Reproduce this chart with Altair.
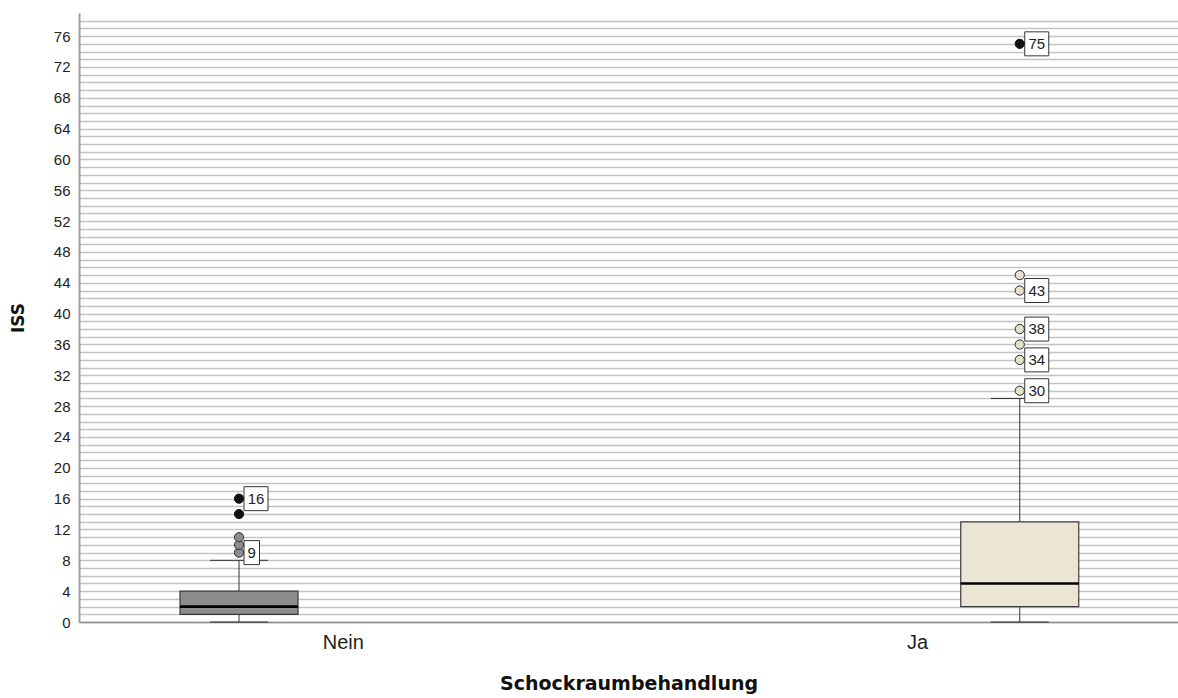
import json
import altair as alt
import pandas as pd

# ---- data: ISS by Schockraumbehandlung ----
groups = ["Nein", "Ja"]
minimum = [0, 0]
q1 = [1, 2]
median = [2, 5]
q3 = [4, 13]
upper_whisker = [8, 29]
outliers = [[9, 10, 11], [30, 34, 36, 38, 43, 45]]
extremes = [[14, 16], [75]]
labelled = [[9, 16], [30, 34, 38, 43, 75]]

# ---- styling / layout ----
box_fill = ["#8e8c8e", "#ebe5d3"]
point_fill = ["#8e8c8e", "#e4e0cb"]
PLOT_W, PLOT_H = 1099, 609
Y_MAX = 79
box_center = [0.1456, 0.856]
label_center = [0.24, 0.7625]
px = 1.0 / PLOT_W
py = Y_MAX / PLOT_H
BOX_HALF = 59 * px
CAP_HALF = 29 * px

boxes, whiskers, caps, points, tags = [], [], [], [], []
for i, g in enumerate(groups):
    c = box_center[i]
    boxes.append(dict(g=g, x0=c - BOX_HALF, x1=c + BOX_HALF, q1=q1[i], q3=q3[i],
                      med=median[i], fill=box_fill[i]))
    whiskers.append(dict(x=c, y=minimum[i], y2=q1[i]))
    whiskers.append(dict(x=c, y=q3[i], y2=upper_whisker[i]))
    for v in (minimum[i], upper_whisker[i]):
        caps.append(dict(x0=c - CAP_HALF, x1=c + CAP_HALF, y=v))
    for v in outliers[i]:
        points.append(dict(x=c, y=v, fill=point_fill[i], stroke="#2e2e2e"))
    for v in extremes[i]:
        points.append(dict(x=c, y=v, fill="#111111", stroke="#111111"))
    for v in labelled[i]:
        txt = str(v)
        w = (7 + 8.5 * len(txt)) * px
        x0 = c + 5 * px
        tags.append(dict(x0=x0, x1=x0 + w, xm=x0 + w / 2, y=v,
                         y0=v - 12 * py, y1=v + 12 * py, t=txt))

box_df = pd.DataFrame(boxes)
whisk_df = pd.DataFrame(whiskers)
cap_df = pd.DataFrame(caps)
pt_df = pd.DataFrame(points)
tag_df = pd.DataFrame(tags)

x_scale = alt.Scale(domain=[0, 1], nice=False, zero=False)
y_scale = alt.Scale(domain=[0, Y_MAX], nice=False, zero=True)

label_expr = "datum.value < 0.5 ? %s : %s" % (json.dumps(groups[0]), json.dumps(groups[1]))
x_axis = alt.Axis(values=label_center, labelExpr=label_expr, title="Schockraumbehandlung",
                  grid=False, ticks=False, tickSize=0, labelFont="Liberation Sans",
                  labelFontSize=20, labelColor="#222222", labelPadding=10, labelFlush=False,
                  titleFont="DejaVu Sans", titleFontSize=19, titleFontWeight="bold",
                  titleColor="#111111", titlePadding=22, domainColor="#8a8a8a", domainWidth=1.5)
y_axis = alt.Axis(values=list(range(0, Y_MAX)),
                  labelExpr="datum.value % 4 === 0 ? datum.label : ''",
                  title="ISS", grid=True, gridColor="#c3c3c3", gridWidth=1.7,
                  ticks=False, tickSize=0, labelFont="Liberation Sans", labelFontSize=15,
                  labelColor="#222222", labelPadding=9, labelOverlap=False, labelBound=False,
                  titleFont="DejaVu Sans", titleFontSize=17, titleFontWeight="bold",
                  titleColor="#111111", titlePadding=26, domainColor="#a0a0a0", domainWidth=2)


def X(f):
    return alt.X(f"{f}:Q", scale=x_scale, axis=x_axis)


def Y(f):
    return alt.Y(f"{f}:Q", scale=y_scale, axis=y_axis)


whisk = alt.Chart(whisk_df).mark_rule(color="#333333", strokeWidth=1).encode(
    x=X("x"), y=Y("y"), y2="y2")
cap = alt.Chart(cap_df).mark_rule(color="#333333", strokeWidth=1).encode(
    x=X("x0"), x2="x1", y=Y("y"))
box = alt.Chart(box_df).mark_rect(stroke="#3a3a3a", strokeWidth=1.2).encode(
    x=X("x0"), x2="x1", y=Y("q1"), y2="q3", fill=alt.Fill("fill:N", scale=None))
med = alt.Chart(box_df).mark_rule(color="#000000", strokeWidth=2.6).encode(
    x=X("x0"), x2="x1", y=Y("med"))
tag_box = alt.Chart(tag_df).mark_rect(fill="white", stroke="#333333", strokeWidth=1).encode(
    x=X("x0"), x2="x1", y=Y("y0"), y2="y1")
tag_txt = alt.Chart(tag_df).mark_text(font="Liberation Sans", fontSize=15, color="#222222").encode(
    x=X("xm"), y=Y("y"), text="t:N")
pts = alt.Chart(pt_df).mark_point(shape="circle", filled=True, size=85, strokeWidth=1,
                                  opacity=1).encode(
    x=X("x"), y=Y("y"), fill=alt.Fill("fill:N", scale=None),
    stroke=alt.Stroke("stroke:N", scale=None))

chart = alt.layer(whisk, cap, box, med, tag_box, tag_txt, pts).properties(
    width=PLOT_W, height=PLOT_H,
    autosize=alt.AutoSizeParams(type="none"),
    padding={"left": 79, "top": 13, "right": 0, "bottom": 76},
    background="white",
).configure_view(stroke=None)

chart.save("out.html", embed_options={"renderer": "svg", "actions": False})
